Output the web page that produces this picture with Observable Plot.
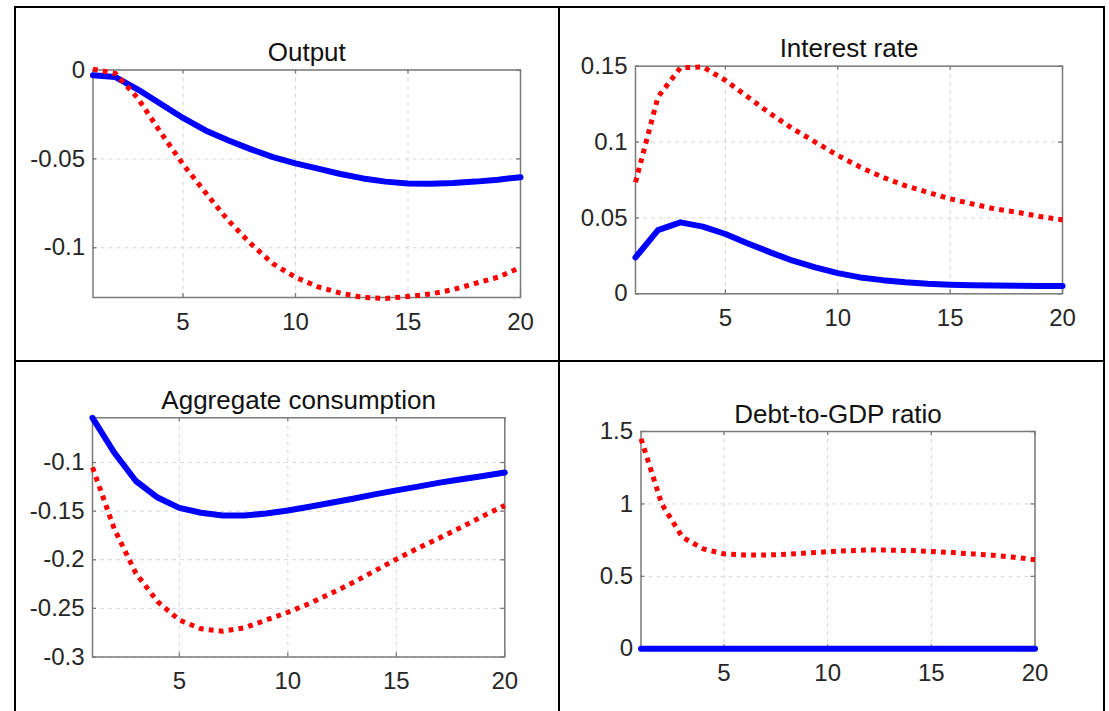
<!DOCTYPE html>
<html><head><meta charset="utf-8">
<script src="https://cdn.jsdelivr.net/npm/d3@7"></script>
<script src="https://cdn.jsdelivr.net/npm/@observablehq/plot@0.6"></script>
<style>
html,body{margin:0;padding:0;background:#fff;overflow:hidden;}
#page{position:relative;width:1109px;height:711px;font-family:"Liberation Sans",Arial,Helvetica,sans-serif;}
.b{position:absolute;background:#000;}
.cell{position:absolute;}
.cell svg{display:block;background:transparent;overflow:visible;}
</style></head><body>
<div id="page">
<div class="b" style="left:14px;top:6px;width:1091px;height:2px"></div>
<div class="b" style="left:14px;top:6px;width:2px;height:705px"></div>
<div class="b" style="left:558px;top:6px;width:2px;height:705px"></div>
<div class="b" style="left:14px;top:360px;width:1091px;height:2px"></div>
<div class="b" style="left:1103px;top:6px;width:2px;height:705px"></div>
<div class="cell" id="c1" style="left:17px;top:8px"></div>
<div class="cell" id="c2" style="left:561px;top:8px"></div>
<div class="cell" id="c3" style="left:17px;top:362px"></div>
<div class="cell" id="c4" style="left:561px;top:362px"></div>
</div>
<script>
// ---- data ----
const periods = [1,2,3,4,5,6,7,8,9,10,11,12,13,14,15,16,17,18,19,20];
const xTicks = [5,10,15,20];

const titles = ["Output","Interest rate","Aggregate consumption","Debt-to-GDP ratio"];

const outputBlue = [-0.003,-0.004,-0.011,-0.019,-0.027,-0.034,-0.0395,-0.0445,-0.049,-0.0525,-0.0555,-0.0585,-0.061,-0.0628,-0.0638,-0.064,-0.0636,-0.0628,-0.0617,-0.0603];
const outputRed  = [0.0005,-0.002,-0.016,-0.035,-0.053,-0.069,-0.0845,-0.0976,-0.109,-0.1166,-0.122,-0.1255,-0.128,-0.1285,-0.1275,-0.126,-0.1236,-0.12,-0.1166,-0.111];
const outputYTicks = [-0.1,-0.05,0];
const outputYDomain = [-0.128,0];

const rateBlue = [0.024,0.042,0.0471,0.0443,0.0394,0.0332,0.0273,0.0218,0.0174,0.0136,0.0108,0.009,0.0076,0.0066,0.006,0.0056,0.0054,0.0053,0.0052,0.0052];
const rateRed  = [0.0735,0.1297,0.149,0.1495,0.1407,0.1297,0.1187,0.1088,0.1,0.0912,0.0835,0.0768,0.0713,0.0669,0.0626,0.0592,0.0559,0.0537,0.0509,0.0487];
const rateYTicks = [0,0.05,0.1,0.15];
const rateYDomain = [0,0.15];

const consBlue = [-0.054,-0.0897,-0.119,-0.136,-0.1466,-0.1517,-0.1545,-0.1545,-0.1524,-0.1493,-0.1455,-0.1414,-0.1372,-0.1328,-0.1286,-0.1248,-0.1207,-0.1172,-0.1138,-0.1103];
const consRed  = [-0.105,-0.168,-0.214,-0.243,-0.262,-0.271,-0.2735,-0.27,-0.262,-0.254,-0.245,-0.2345,-0.2235,-0.2115,-0.1995,-0.188,-0.1775,-0.1665,-0.155,-0.1441];
const consYTicks = [-0.3,-0.25,-0.2,-0.15,-0.1];
const consYDomain = [-0.3,-0.054];

const debtBlue = [0,0,0,0,0,0,0,0,0,0,0,0,0,0,0,0,0,0,0,0];
const debtRed  = [1.45,1.0,0.77,0.69,0.655,0.648,0.647,0.652,0.661,0.67,0.677,0.682,0.681,0.678,0.672,0.664,0.655,0.645,0.632,0.615];
const debtYTicks = [0,0.5,1,1.5];
const debtYDomain = [0,1.5];

// ---- layout ----
const cells = [
  {x:17, y:8, w:541, h:352},
  {x:561, y:8, w:541, h:352},
  {x:17, y:362, w:541, h:349},
  {x:561, y:362, w:541, h:349}
];
const frames = [
  {x0:92.5, x1:520, y0:69.5, y1:297},
  {x0:635, x1:1062, y0:65.7, y1:293.3},
  {x0:92, x1:504.3, y0:417.3, y1:656.5},
  {x0:640.5, x1:1034.5, y0:431, y1:648.3}
];

const FONT = '"Liberation Sans", Arial, Helvetica, sans-serif';
const FRAME = "#7a7a7a";
const GRID = "#d6d6d6";

function panel(k, title, yDomain, yTicks, blue, red) {
  const cell = cells[k], fr = frames[k];
  const ml = fr.x0 - cell.x, mr = cell.x + cell.w - fr.x1;
  const mt = fr.y0 - cell.y, mb = cell.y + cell.h - fr.y1;
  const fw = fr.x1 - fr.x0, fh = fr.y1 - fr.y0;
  const rows = periods.map((t, i) => ({t, blue: blue[i], red: red[i]}));
  const tk = 4;
  return Plot.plot({
    width: cell.w, height: cell.h,
    marginLeft: ml, marginRight: mr, marginTop: mt, marginBottom: mb,
    style: {fontFamily: FONT, background: "transparent", color: "#262626", overflow: "visible"},
    x: {domain: [1, 20], label: null},
    y: {domain: yDomain, label: null},
    marks: [
      Plot.ruleX(xTicks, {x: d => d, stroke: GRID, strokeDasharray: "4,4", strokeWidth: 1}),
      Plot.ruleY(yTicks, {y: d => d, stroke: GRID, strokeDasharray: "4,4", strokeWidth: 1}),
      Plot.frame({stroke: FRAME, strokeWidth: 1.5}),
      Plot.tickX(xTicks, {x: d => d, insetTop: fh - tk, stroke: FRAME, strokeWidth: 1.3}),
      Plot.tickX(xTicks, {x: d => d, insetBottom: fh - tk, stroke: FRAME, strokeWidth: 1.3}),
      Plot.tickY(yTicks, {y: d => d, insetRight: fw - tk, stroke: FRAME, strokeWidth: 1.3}),
      Plot.tickY(yTicks, {y: d => d, insetLeft: fw - tk, stroke: FRAME, strokeWidth: 1.3}),
      Plot.axisX({ticks: xTicks, tickSize: 0, tickPadding: 15, fontSize: 24, tickFormat: d => String(d), label: null}),
      Plot.axisY({ticks: yTicks, tickSize: 0, tickPadding: 8, fontSize: 24, tickFormat: d => String(d), label: null}),
      Plot.line(rows, {x: "t", y: "blue", stroke: "#0000ff", strokeWidth: 6}),
      Plot.line(rows, {x: "t", y: "red", stroke: "#ff0000", strokeWidth: 5, strokeDasharray: "4.8,5.2", strokeLinecap: "butt"}),
      Plot.text([title], {frameAnchor: "top", dy: -9, lineAnchor: "bottom", fontSize: 26, fill: "#111"})
    ]
  });
}

document.getElementById("c1").appendChild(panel(0, titles[0], outputYDomain, outputYTicks, outputBlue, outputRed));
document.getElementById("c2").appendChild(panel(1, titles[1], rateYDomain, rateYTicks, rateBlue, rateRed));
document.getElementById("c3").appendChild(panel(2, titles[2], consYDomain, consYTicks, consBlue, consRed));
document.getElementById("c4").appendChild(panel(3, titles[3], debtYDomain, debtYTicks, debtBlue, debtRed));
</script>
</body></html>
